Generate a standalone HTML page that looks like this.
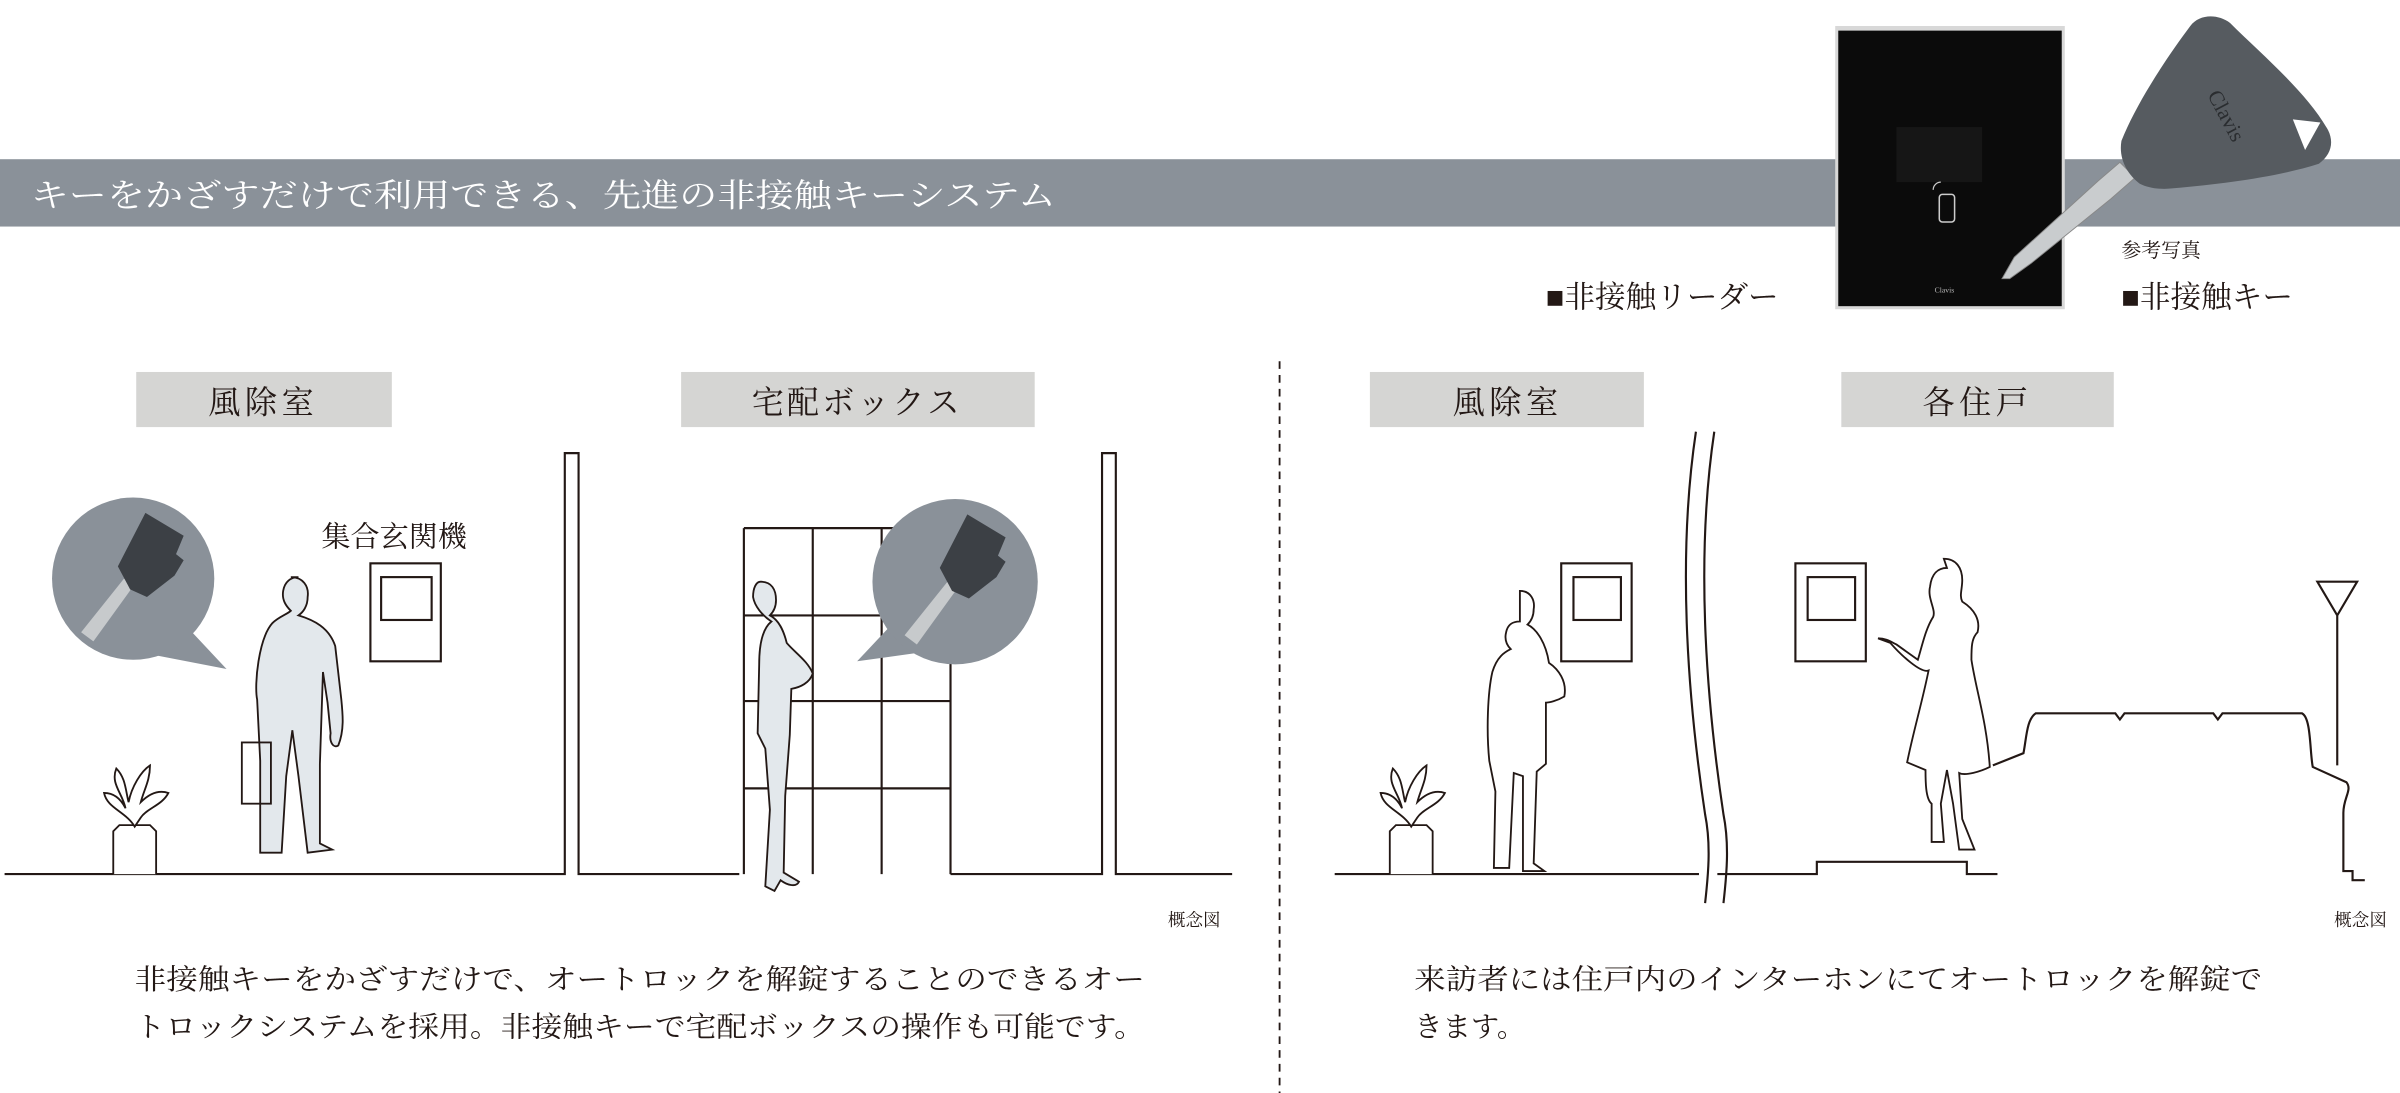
<!DOCTYPE html>
<html><head><meta charset="utf-8">
<style>
html,body{margin:0;padding:0;background:#fff;}
svg{display:block;}
text{font-family:"Liberation Serif","Noto Serif CJK SC",serif;}
</style></head><body>
<svg width="2400" height="1093" viewBox="0 0 1568 714" preserveAspectRatio="none" xmlns="http://www.w3.org/2000/svg">
<rect width="1568" height="714" fill="#fff"/>
<rect x="0" y="104" width="1568" height="44" fill="#8a9199"/>
<text x="20" y="135" font-size="21" fill="#fff" textLength="670" lengthAdjust="spacingAndGlyphs">キーをかざすだけで利用できる、先進の非接触キーシステム</text>

<!-- reader -->
<rect x="1199" y="17" width="150" height="185" fill="#d8d8d8"/>
<rect x="1201" y="20" width="146" height="180" fill="#0b0b0b"/>
<rect x="1239" y="83" width="56" height="36" fill="#161616"/>
<rect x="1267" y="127" width="10" height="18" rx="2" fill="none" stroke="#ccc" stroke-width="1"/>
<path d="M1263,124 a5,5 0 0 1 5,-5" fill="none" stroke="#ccc" stroke-width="0.8"/>
<text x="1264" y="191" font-size="5" fill="#bbb" font-family="Liberation Sans,sans-serif">Clavis</text>

<!-- key -->
<path d="M1308,182 l8,-14 l55,-50 l14,-12 l10,10 l-16,14 l-52,42 l-14,10 z" fill="#c9ccce" stroke="#888" stroke-width="0.6"/>
<path d="M1398,120 c-8,-6 -14,-16 -12,-28 c10,-25 30,-55 45,-75 c6,-8 18,-8 26,-2 c20,20 50,45 64,70 c4,8 2,16 -6,22 c-25,8 -60,13 -95,16 c-8,1 -16,0 -22,-3 z" fill="#565b60"/>
<path d="M1498,78 l18,2 l-10,18 z" fill="#fff"/>
<text x="1442" y="62" font-size="14" fill="#2a2d30" font-family="Liberation Sans,sans-serif" transform="rotate(62 1442 62)">Clavis</text>

<text x="1386" y="168" font-size="13" fill="#231815">参考写真</text>
<text x="1010" y="201" font-size="20" fill="#231815">■非接触リーダー</text>
<text x="1386" y="201" font-size="20" fill="#231815">■非接触キー</text>

<line x1="836" y1="236" x2="836" y2="714" stroke="#231815" stroke-width="1.2" stroke-dasharray="5,4"/>

<rect x="89" y="243" width="167" height="36" fill="#d5d5d3"/>
<text x="172" y="270" font-size="21" fill="#231815" text-anchor="middle" letter-spacing="3">風除室</text>
<rect x="445" y="243" width="231" height="36" fill="#d5d5d3"/>
<text x="560" y="270" font-size="21" fill="#231815" text-anchor="middle" letter-spacing="2">宅配ボックス</text>
<rect x="895" y="243" width="179" height="36" fill="#d5d5d3"/>
<text x="985" y="270" font-size="21" fill="#231815" text-anchor="middle" letter-spacing="3">風除室</text>
<rect x="1203" y="243" width="178" height="36" fill="#d5d5d3"/>
<text x="1292" y="270" font-size="21" fill="#231815" text-anchor="middle" letter-spacing="3">各住戸</text>

<g fill="none" stroke="#231815" stroke-width="1.4">
<path d="M3,571 H369 V296 H378 V571 H483"/>
<path d="M621,571 H720 V296 H729 V571 H805"/>
<path d="M486,345 H621 M486,402 H621 M486,458 H621 M486,515 H621 M486,345 V571 M531,345 V571 M576,345 V571 M621,345 V571"/>
<rect x="242" y="368" width="46" height="64"/>
<rect x="249" y="377" width="33" height="28"/>
<path d="M872,571 H1110"/>
<path d="M1122,571 H1187 V563 H1285 V571 H1305"/>
<path d="M1108,282 c-12,80 -6,170 6,250 c4,20 2,40 0,58"/>
<path d="M1120,282 c-12,80 -6,170 6,250 c4,20 2,40 0,58"/>
<rect x="1020" y="368" width="46" height="64"/>
<rect x="1028" y="377" width="31" height="28"/>
<rect x="1173" y="368" width="46" height="64"/>
<rect x="1181" y="377" width="31" height="28"/>
<path d="M1302,500 l20,-8 c2,-10 2,-22 8,-26 l52,0 l3,4 l3,-4 l58,0 l3,4 l3,-4 l52,0 c6,3 5,25 7,35 l22,10 c4,5 -2,10 -2,20 l0,38 l6,0 l0,6 l8,0"/>
<path d="M1514,380 H1540 L1527,402 Z M1527,402 V500"/>
</g>

<path d="M60,420 L148,437 L118,405 Z" fill="#8a9199"/>
<circle cx="87" cy="378" r="53" fill="#8a9199"/>
<path d="M560,432 L590,400 L610,425 Z" fill="#8a9199"/>
<circle cx="624" cy="380" r="54" fill="#8a9199"/>
<path d="M53,413 l28,-35 l6,5 l-26,36 z" fill="#c7cacc"/>
<path d="M85,385 l-8,-15 l18,-35 l25,15 l-5,12 l5,4 l-6,10 l-18,14 z" fill="#3c4045"/>
<path d="M591,415 l28,-35 l6,5 l-26,36 z" fill="#c7cacc"/>
<path d="M622,386 l-8,-15 l18,-35 l25,15 l-5,12 l5,4 l-6,10 l-18,14 z" fill="#3c4045"/>

<g stroke="#231815" stroke-width="1.2">
<path d="M190,377 c8,0 12,6 11,13 c0,6 -3,10 -6,12 c10,3 20,8 24,20 l4,35 c1,10 2,20 -2,30 c-3,2 -6,-2 -5,-8 l-2,-20 l-3,-20 l-2,60 l0,52 l8,4 l-16,2 l-6,-50 l-4,-30 l-4,30 l-3,50 l-14,0 l0,-60 l-2,-40 c-2,-10 1,-40 10,-50 c4,-4 10,-6 12,-8 c-3,-3 -6,-7 -5,-13 c1,-6 5,-9 10,-9 z" fill="#e3e8ec"/>
<rect x="158" y="485" width="19" height="40" fill="none"/>
<path d="M497,380 C504,380 507,385 507,392 C507,397 505,400 503,402 C509,405 512,412 514,420 C519,426 528,432 531,440 C529,446 523,449 517,450 L516,480 L513,520 L512,570 L522,576 C520,580 514,578 510,575 L506,582 L500,579 L503,529 L500,489 L495,479 L496,434 C496,419 499,410 504,406 C498,402 493,396 492,390 C492,384 494,380 497,380 Z" fill="#e3e8ec"/>
<path d="M993,386 c7,0 10,6 9,12 c0,5 -2,8 -4,10 c6,3 12,12 14,25 c6,4 12,12 10,22 c-5,3 -10,4 -12,4 l0,40 l-6,5 l-2,60 l7,5 l-14,0 l0,-62 l-6,-2 l-3,62 l-10,0 l1,-50 l-4,-20 c-2,-20 -1,-45 2,-58 c3,-10 8,-13 12,-15 c-3,-3 -4,-7 -3,-11 c1,-5 4,-7 9,-7 z" fill="#fff"/>
<path d="M1270,365 c8,0 12,6 12,14 c0,6 -2,10 0,14 c8,5 12,12 10,20 c-4,4 -4,10 -4,18 c3,20 10,40 12,70 c-6,3 -16,6 -20,4 l2,30 l8,20 l-10,0 l-4,-30 l-4,-22 l-4,22 l2,25 l-8,0 l0,-25 c-4,-3 -4,-15 -4,-22 l-12,-5 c4,-20 10,-40 14,-60 c-5,2 -18,-10 -25,-18 l-8,-3 c5,0 8,2 12,4 l14,10 c3,-10 5,-20 10,-28 c2,-5 -4,-12 -2,-20 c1,-8 5,-12 11,-12 z" fill="#fff"/>
<path d="M74,571 l0,-28 l4,-4 l20,0 l4,4 l0,28" fill="#fff"/>
<path d="M88,540 c-6,-10 -18,-12 -20,-22 c8,0 12,6 14,10 c-2,-10 -10,-16 -6,-26 c6,6 6,14 8,22 c2,-10 8,-20 14,-24 c0,10 -4,16 -6,24 c6,-6 12,-8 18,-6 c-4,8 -14,10 -18,16 z" fill="#fff"/>
<path d="M908,571 l0,-28 l4,-4 l20,0 l4,4 l0,28" fill="#fff"/>
<path d="M922,540 c-6,-10 -18,-12 -20,-22 c8,0 12,6 14,10 c-2,-10 -10,-16 -6,-26 c6,6 6,14 8,22 c2,-10 8,-20 14,-24 c0,10 -4,16 -6,24 c6,-6 12,-8 18,-6 c-4,8 -14,10 -18,16 z" fill="#fff"/>
</g>

<text x="210" y="357" font-size="19" fill="#231815">集合玄関機</text>
<text x="763" y="605" font-size="11.5" fill="#231815">概念図</text>
<text x="1525" y="605" font-size="11.5" fill="#231815">概念図</text>

<text x="88" y="646" font-size="18.5" fill="#231815" textLength="660" lengthAdjust="spacingAndGlyphs">非接触キーをかざすだけで、オートロックを解錠することのできるオー</text>
<text x="88" y="677" font-size="18.5" fill="#231815" textLength="660" lengthAdjust="spacingAndGlyphs">トロックシステムを採用。非接触キーで宅配ボックスの操作も可能です。</text>
<text x="924" y="646" font-size="18.5" fill="#231815" textLength="554" lengthAdjust="spacingAndGlyphs">来訪者には住戸内のインターホンにてオートロックを解錠で</text>
<text x="924" y="677" font-size="18.5" fill="#231815">きます。</text>
</svg>
</body></html>
